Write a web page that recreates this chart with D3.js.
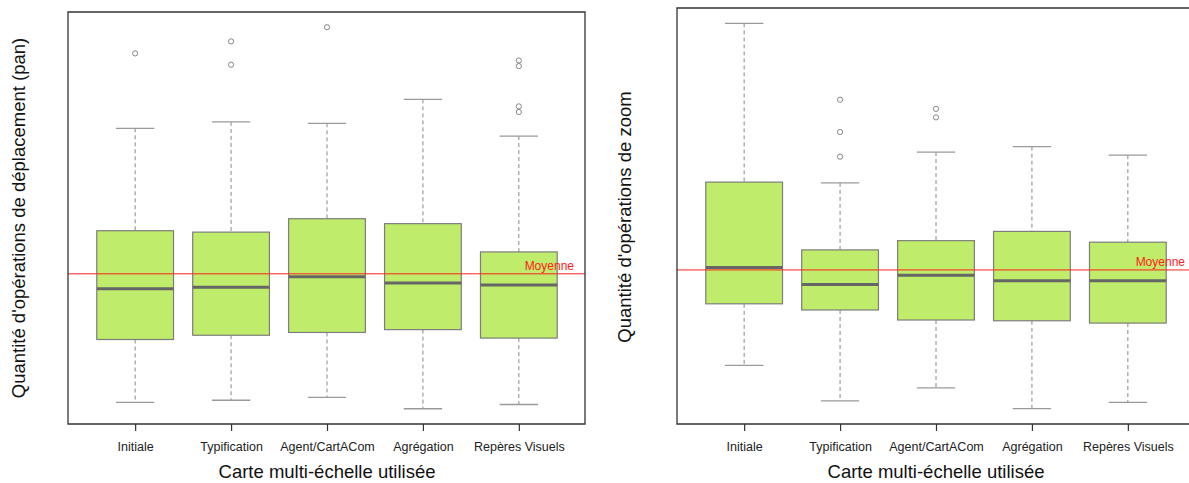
<!DOCTYPE html>
<html>
<head>
<meta charset="utf-8">
<script src="https://cdn.jsdelivr.net/npm/d3@7"></script>
<style>
  html, body { margin: 0; padding: 0; background: #fff; }
  svg { display: block; font-family: "Liberation Sans", Arial, sans-serif; }
</style>
</head>
<body>
<svg id="chart" width="1189" height="483"></svg>
<script>
// ---------- DATA ----------
const categories = ["Initiale", "Typification", "Agent/CartACom", "Agrégation", "Repères Visuels"];

// Panel 1: pan operations  [lower whisker, Q1, median, Q3, upper whisker]
const panLow    = [3.9, 4.2, 4.6, 3.0, 3.6];
const panQ1     = [12.8, 13.4, 13.8, 14.2, 13.0];
const panMedian = [20.0, 20.2, 21.7, 20.8, 20.5];
const panQ3     = [28.2, 28.0, 29.9, 29.2, 25.2];
const panHigh   = [42.7, 43.6, 43.4, 46.8, 41.6];
const panOutliers = [[53.3], [55.0, 51.7], [57.0], [], [52.3, 51.5, 45.8, 45.0]];
const panMean = 22.1;

// Panel 2: zoom operations
const zoomLow    = [7.6, 3.0, 4.7, 2.0, 2.8];
const zoomQ1     = [15.6, 14.8, 13.5, 13.4, 13.1];
const zoomMedian = [20.3, 18.1, 19.3, 18.6, 18.6];
const zoomQ3     = [31.4, 22.6, 23.8, 25.0, 23.6];
const zoomHigh   = [52.0, 31.3, 35.3, 36.0, 34.9];
const zoomOutliers = [[], [42.1, 37.9, 34.7], [40.9, 39.8], [], []];
const zoomMean = 20.0;

const xTitle = "Carte multi-échelle utilisée";
const panTitle = "Quantité d'opérations de déplacement (pan)";
const zoomTitle = "Quantité d'opérations de zoom";
const meanLabel = "Moyenne";

// ---------- DRAW ----------
const svg = d3.select("#chart");

function panel(cfg) {
  const g = svg.append("g");
  const {left, right, top, bottom} = cfg;
  const rows = categories.map((c, i) => ({
    cat: c, lo: cfg.low[i], q1: cfg.q1[i], med: cfg.median[i], q3: cfg.q3[i], hi: cfg.high[i], out: cfg.outliers[i]
  }));
  const all = rows.flatMap(r => [r.lo, r.hi, ...r.out]);
  const mn = d3.min(all), mx = d3.max(all);
  const ext = (mx - mn) * 0.04;
  const y = d3.scaleLinear().domain([mn - ext, mx + ext]).range([bottom, top]);
  const x = d3.scalePoint().domain(categories).range([left, left + 518]).padding(0.7);
  const step = x.step();
  const bw = step * 0.8, cw = bw * 0.5;

  const boxes = g.selectAll("g.box").data(rows).join("g").attr("class", "box");
  // whiskers
  boxes.append("line").attr("x1", d => x(d.cat)).attr("x2", d => x(d.cat))
    .attr("y1", d => y(d.hi)).attr("y2", d => y(d.q3))
    .attr("stroke", "#8a8a8a").attr("stroke-width", 1).attr("stroke-dasharray", "4,3");
  boxes.append("line").attr("x1", d => x(d.cat)).attr("x2", d => x(d.cat))
    .attr("y1", d => y(d.q1)).attr("y2", d => y(d.lo))
    .attr("stroke", "#8a8a8a").attr("stroke-width", 1).attr("stroke-dasharray", "4,3");
  // caps
  boxes.append("line").attr("x1", d => x(d.cat) - cw / 2).attr("x2", d => x(d.cat) + cw / 2)
    .attr("y1", d => y(d.hi)).attr("y2", d => y(d.hi))
    .attr("stroke", "#9a9a9a").attr("stroke-width", 1.3);
  boxes.append("line").attr("x1", d => x(d.cat) - cw / 2).attr("x2", d => x(d.cat) + cw / 2)
    .attr("y1", d => y(d.lo)).attr("y2", d => y(d.lo))
    .attr("stroke", "#9a9a9a").attr("stroke-width", 1.3);
  // box
  boxes.append("rect").attr("x", d => x(d.cat) - bw / 2).attr("width", bw)
    .attr("y", d => y(d.q3)).attr("height", d => y(d.q1) - y(d.q3))
    .attr("fill", "#bfec6a").attr("stroke", "#7d7d7d").attr("stroke-width", 1.2);
  // median
  boxes.append("line").attr("x1", d => x(d.cat) - bw / 2).attr("x2", d => x(d.cat) + bw / 2)
    .attr("y1", d => y(d.med)).attr("y2", d => y(d.med))
    .attr("stroke", "#666").attr("stroke-width", 3);
  // outliers
  boxes.selectAll("circle").data(d => d.out.map(v => ({cat: d.cat, v}))).join("circle")
    .attr("cx", d => x(d.cat)).attr("cy", d => y(d.v)).attr("r", 2.6)
    .attr("fill", "none").attr("stroke", "#7a7a7a").attr("stroke-width", 0.9);

  // mean line
  g.append("line").attr("x1", left).attr("x2", right).attr("y1", y(cfg.mean)).attr("y2", y(cfg.mean))
    .attr("stroke", "#ff2020").attr("stroke-width", 1);
  g.append("text").attr("x", cfg.meanX).attr("y", y(cfg.mean) - 4)
    .attr("text-anchor", "end").attr("fill", "#ff2020").attr("font-size", 12).text(meanLabel);

  // frame
  g.append("path")
    .attr("d", `M${left},${top}H${right}V${bottom}H${left}Z`)
    .attr("fill", "none").attr("stroke", "#333").attr("stroke-width", 1.3);

  // x axis
  const ax = g.append("g").attr("transform", `translate(0,${bottom})`)
    .call(d3.axisBottom(x).tickSize(7).tickPadding(11));
  ax.select(".domain").remove();
  ax.selectAll(".tick line").attr("stroke", "#333").attr("stroke-width", 1.2);
  ax.selectAll(".tick text").attr("font-size", 12.5).attr("fill", "#222")
    .attr("font-family", "Liberation Sans, Arial, sans-serif");

  // titles
  g.append("text").attr("x", left + 259).attr("y", 478).attr("text-anchor", "middle")
    .attr("font-size", 18.5).attr("fill", "#111").text(xTitle);
  g.append("text").attr("transform", `translate(${cfg.yTitleX},${cfg.yTitleY}) rotate(-90)`)
    .attr("text-anchor", "middle").attr("font-size", 18.5).attr("fill", "#111").text(cfg.title);
}

panel({left: 68, right: 585, top: 12, bottom: 424,
  low: panLow, q1: panQ1, median: panMedian, q3: panQ3, high: panHigh, outliers: panOutliers,
  mean: panMean, meanX: 574, title: panTitle, yTitleX: 25, yTitleY: 218});

panel({left: 677, right: 1195, top: 8, bottom: 424,
  low: zoomLow, q1: zoomQ1, median: zoomMedian, q3: zoomQ3, high: zoomHigh, outliers: zoomOutliers,
  mean: zoomMean, meanX: 1185, title: zoomTitle, yTitleX: 631, yTitleY: 217});
</script>
</body>
</html>
